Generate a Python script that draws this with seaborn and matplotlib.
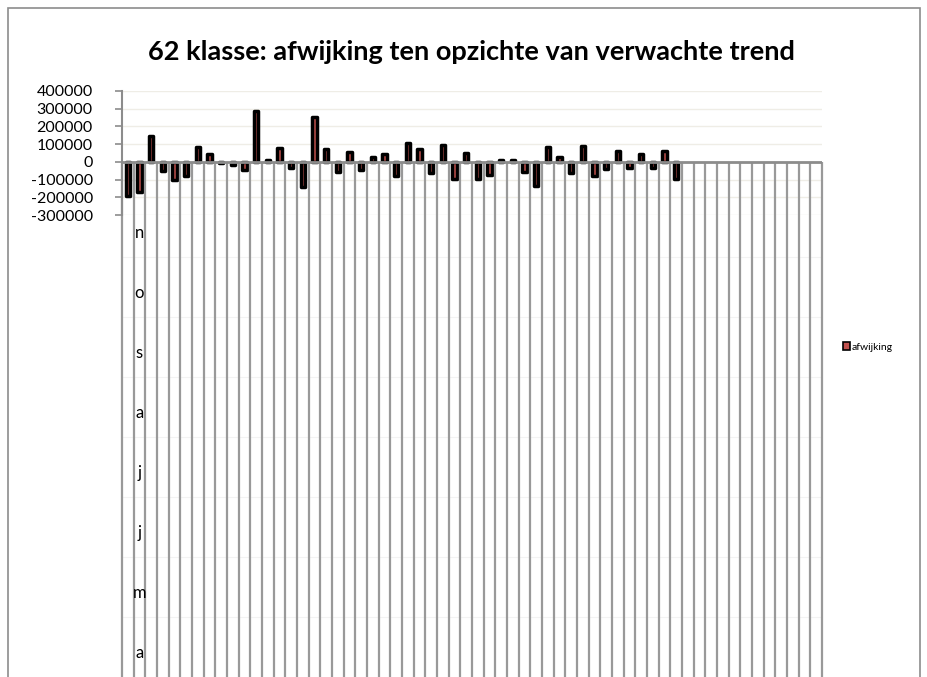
import pandas as pd
import matplotlib.pyplot as plt
import seaborn as sns
from matplotlib.patches import Patch, Rectangle
from matplotlib.lines import Line2D
from matplotlib.transforms import blended_transform_factory

# afwijking per periode (48 waarden, rest van de 60 categorieen leeg)
afwijking = [-195000, -171000, 144000, -49000, -100000, -80000, 85000, 47000,
             -6000, -15000, -48000, 285000, 12000, 78000, -36000, -140000,
             256000, 70000, -59000, 57000, -45000, 30000, 42000, -78000,
             108000, 70000, -65000, 93000, -99000, 49000, -95000, -74000,
             8000, 12000, -58000, -135000, 84000, 28000, -65000, 91000,
             -82000, -42000, 61000, -32000, 44000, -32000, 61000, -97000]
n_categories = 60
categories = [str(i + 1) for i in range(n_categories)]
label_letters = ["n", "o", "s", "a", "j", "j", "m", "a"]
y_ticks = [400000, 300000, 200000, 100000, 0, -100000, -200000, -300000]

df = pd.DataFrame({"periode": categories[:len(afwijking)], "afwijking": afwijking})

sns.set_style("white")
plt.rcParams["font.family"] = ["Lato", "DejaVu Sans"]
plt.rcParams["text.color"] = "black"

W, H = 928, 677
fig = plt.figure(figsize=(W / 100, H / 100), dpi=100)
ax = fig.add_axes([122 / W, 1 - 215 / H, 700 / W, 124 / H])

sns.barplot(data=df, x="periode", y="afwijking", order=categories, ax=ax,
            color="#C0504D", saturation=1, width=0.38,
            edgecolor="black", linewidth=2.5)
for p in ax.patches:
    p.set_joinstyle("round")

ax.set_xlim(-0.5, n_categories - 0.5)
ax.set_ylim(-300000, 400000)
ax.set_yticks(y_ticks)
ax.set_yticklabels([str(v) for v in y_ticks], fontsize=11.5, color="black")
ax.tick_params(axis="y", length=5, width=1.2, color="#8c8c8c", pad=16, left=True)
ax.set_xticks([])
ax.set_xlabel("")
ax.set_ylabel("")
ax.yaxis.grid(True, color="#efede6", linewidth=1)
ax.set_axisbelow(True)
for s in ["top", "right", "bottom"]:
    ax.spines[s].set_visible(False)
ax.spines["left"].set_color("#8c8c8c")
ax.spines["left"].set_linewidth(1.5)

# nullijn en categorie-scheidingslijnen
ax.axhline(0, color="#8c8c8c", linewidth=2, zorder=1.5)
zero_frac = 300000 / 700000
bottom_frac = -(H - 215) / 124 - 0.1
trans = blended_transform_factory(ax.transData, ax.transAxes)
vl = ax.vlines([k - 0.5 for k in range(n_categories + 1)], bottom_frac, zero_frac,
               transform=trans, color="#999999", linewidth=1.6, zorder=1)
vl.set_clip_on(False)

# lichte scheidingen tussen de labelniveaus
for py in [257, 317, 377, 437, 497, 557, 617]:
    fig.add_artist(Line2D([122 / W, 822 / W], [1 - py / H, 1 - py / H],
                          color="#f3f3f3", linewidth=0.8, zorder=0))

for i, letter in enumerate(label_letters):
    ax.text(1, 1 - (233 + 60 * i) / H, letter, transform=blended_transform_factory(ax.transData, fig.transFigure),
            ha="center", va="center", fontsize=12, color="black")

fig.text(471 / W, 1 - 52 / H, "62 klasse: afwijking ten opzichte van verwachte trend",
         ha="center", va="center", fontsize=19.5, fontweight="bold", color="black")

fig.legend(handles=[Patch(facecolor="#C0504D", edgecolor="black", linewidth=1.2)],
           labels=["afwijking"], loc="center left",
           bbox_to_anchor=(834 / W, 1 - 347 / H), frameon=False, fontsize=7.5,
           handlelength=0.6, handleheight=0.7, handletextpad=0.2)

fig.add_artist(Rectangle((8 / W, -0.05), (920 - 8) / W, 1.05 - 8 / H,
                         transform=fig.transFigure, fill=False,
                         edgecolor="#8c8c8c", linewidth=1.2))

plt.savefig("out.png", dpi=100)
